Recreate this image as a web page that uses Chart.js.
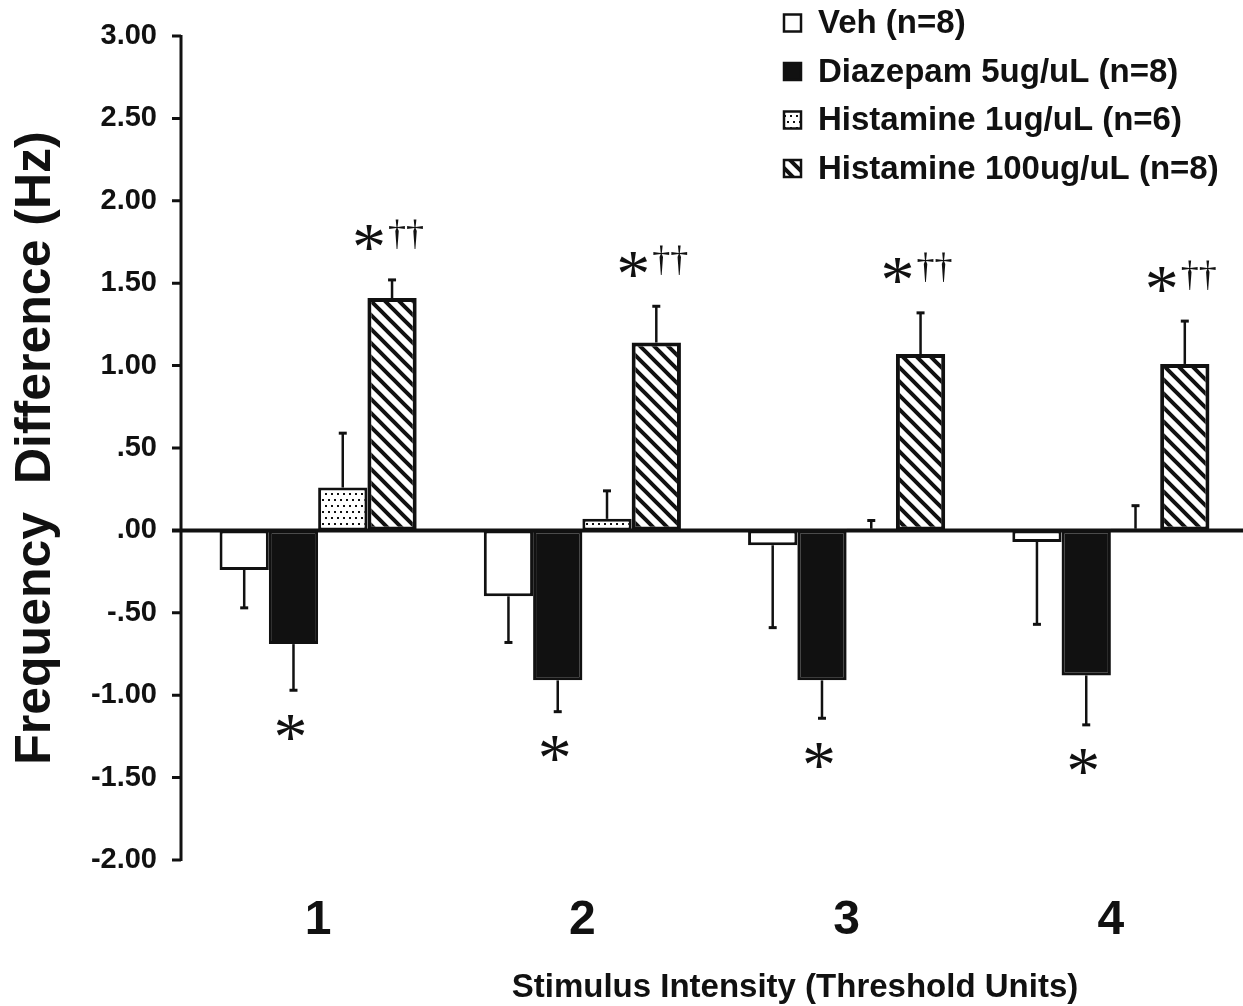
<!DOCTYPE html>
<html lang="en">
<head>
<meta charset="UTF-8">
<title>Frequency Difference</title>
<script src="https://cdn.jsdelivr.net/npm/chart.js"></script>
<style>
    html, body { margin: 0; padding: 0; background: #fff; }
    #wrap { width: 1243px; height: 1006px; }
</style>
</head>
<body>
<div id="wrap"><canvas id="chart" width="1243" height="1006"></canvas></div>
<script>
    // stimulus intensities (threshold units)
    const intensities = ['1', '2', '3', '4'];
    const groupNames = ['Veh (n=8)', 'Diazepam 5ug/uL (n=8)', 'Histamine 1ug/uL (n=6)', 'Histamine 100ug/uL (n=8)'];

    // mean frequency difference (Hz) and SEM for each group
    const vehMean = [-0.24, -0.40, -0.09, -0.07];
    const vehSem = [0.23, 0.28, 0.50, 0.50];
    const diazMean = [-0.69, -0.91, -0.91, -0.88];
    const diazSem = [0.28, 0.19, 0.23, 0.30];
    const hist1Mean = [0.26, 0.07, 0.01, 0.01];
    const hist1Sem = [0.33, 0.17, 0.05, 0.14];
    const hist100Mean = [1.41, 1.14, 1.07, 1.01];
    const hist100Sem = [0.11, 0.22, 0.25, 0.26];

    // significance marks
    const diazMarks = ['*', '*', '*', '*'];
    const hist100Marks = ['*', '*', '*', '*'];
    const hist100Daggers = ['††', '††', '††', '††'];

    const yTicks = [-2, -1.5, -1, -0.5, 0, 0.5, 1, 1.5, 2, 2.5, 3];

    const SANS = '"Liberation Sans", Arial, sans-serif';
    const SERIF = '"Liberation Serif", "Times New Roman", serif';
    const INK = '#111';

    // fill patterns
    function dotPattern() {
        const c = document.createElement('canvas');
        c.width = 6; c.height = 12;
        const g = c.getContext('2d');
        g.fillStyle = '#fff';
        g.fillRect(0, 0, 6, 12);
        g.fillStyle = '#111';
        g.fillRect(1, 1, 2, 2);
        g.fillRect(4, 7, 2, 2);
        return g.createPattern(c, 'repeat');
    }

    function hatchPattern() {
        const s = 14;
        const c = document.createElement('canvas');
        c.width = s; c.height = s;
        const g = c.getContext('2d');
        g.fillStyle = '#fff';
        g.fillRect(0, 0, s, s);
        g.strokeStyle = '#111';
        g.lineWidth = 4;
        g.lineCap = 'square';
        [-s, 0, s].forEach(k => {
            g.beginPath();
            g.moveTo(k - 2, -2);
            g.lineTo(k + s + 2, s + 2);
            g.stroke();
        });
        return g.createPattern(c, 'repeat');
    }

    const dots = dotPattern();
    const hatch = hatchPattern();

    const means = [vehMean, diazMean, hist1Mean, hist100Mean];
    const sems = [vehSem, diazSem, hist1Sem, hist100Sem];
    const fills = ['#fff', '#111', dots, hatch];
    const borders = [3, 3, 3, 4];

    function fmtTick(v) {
        let s = Math.abs(v).toFixed(2);
        if (Math.abs(v) < 1) s = s.slice(1);
        return (v < 0 ? '-' : '') + s;
    }

    // draw a glyph centred on (x, y) using its real ink box
    function centerText(ctx, txt, x, y) {
        const m = ctx.measureText(txt);
        const h = m.actualBoundingBoxAscent + m.actualBoundingBoxDescent;
        const w = m.actualBoundingBoxLeft + m.actualBoundingBoxRight;
        ctx.textAlign = 'left';
        ctx.textBaseline = 'alphabetic';
        ctx.fillText(txt, x - w / 2 + m.actualBoundingBoxLeft, y - h / 2 + m.actualBoundingBoxAscent);
    }

    const decorations = {
        id: 'decorations',
        afterDatasetsDraw(chart) {
            const ctx = chart.ctx;
            const ys = chart.scales.y;
            const area = chart.chartArea;
            const axisX = area.left - 5;

            ctx.save();
            ctx.strokeStyle = INK;
            ctx.fillStyle = INK;

            // error bars (one-sided, away from zero)
            means.forEach((vals, i) => {
                const meta = chart.getDatasetMeta(i);
                meta.data.forEach((bar, j) => {
                    const v = vals[j];
                    const end = v + (v < 0 ? -sems[i][j] : sems[i][j]);
                    const y0 = ys.getPixelForValue(v);
                    const y1 = ys.getPixelForValue(end);
                    ctx.lineWidth = 2.5;
                    ctx.beginPath();
                    ctx.moveTo(bar.x, y0);
                    ctx.lineTo(bar.x, y1);
                    ctx.stroke();
                    ctx.lineWidth = 3;
                    ctx.beginPath();
                    ctx.moveTo(bar.x - 4, y1);
                    ctx.lineTo(bar.x + 4, y1);
                    ctx.stroke();
                });
            });

            // y axis with outside tick marks
            ctx.lineWidth = 3;
            ctx.beginPath();
            ctx.moveTo(axisX, area.top - 1);
            ctx.lineTo(axisX, area.bottom + 1);
            yTicks.forEach(t => {
                const y = ys.getPixelForValue(t);
                ctx.moveTo(axisX - 9, y);
                ctx.lineTo(axisX, y);
            });
            ctx.stroke();

            // zero line
            const y0 = ys.getPixelForValue(0);
            ctx.lineWidth = 4;
            ctx.beginPath();
            ctx.moveTo(axisX - 9, y0);
            ctx.lineTo(chart.width, y0);
            ctx.stroke();

            // significance marks
            const diazMeta = chart.getDatasetMeta(1);
            diazMeta.data.forEach((bar, j) => {
                const yEnd = ys.getPixelForValue(diazMean[j] - diazSem[j]);
                ctx.font = '68px ' + SERIF;
                centerText(ctx, diazMarks[j], bar.x - 3, yEnd + 37);
            });
            const h100Meta = chart.getDatasetMeta(3);
            h100Meta.data.forEach((bar, j) => {
                const yEnd = ys.getPixelForValue(hist100Mean[j] + hist100Sem[j]);
                ctx.font = '68px ' + SERIF;
                centerText(ctx, hist100Marks[j], bar.x - 23, yEnd - 42);
                ctx.font = '36px ' + SERIF;
                centerText(ctx, hist100Daggers[j], bar.x + 14, yEnd - 46);
            });

            // x axis title
            ctx.font = 'bold 33px ' + SANS;
            ctx.textAlign = 'center';
            ctx.textBaseline = 'middle';
            ctx.fillText('Stimulus Intensity (Threshold Units)', 795, 988);

            // legend
            groupNames.forEach((name, i) => {
                const cy = 23 + i * 48.5;
                ctx.fillStyle = fills[i];
                ctx.fillRect(784, cy - 8.5, 17, 17);
                ctx.lineWidth = 2.5;
                ctx.strokeStyle = INK;
                ctx.strokeRect(784, cy - 8.5, 17, 17);
                ctx.fillStyle = INK;
                ctx.font = 'bold 33px ' + SANS;
                ctx.textAlign = 'left';
                ctx.textBaseline = 'middle';
                ctx.fillText(name, 818, cy + 1);
            });

            ctx.restore();
        }
    };

    const datasets = means.map((vals, i) => ({
        label: groupNames[i],
        data: vals,
        backgroundColor: fills[i],
        borderColor: INK,
        borderWidth: borders[i],
        borderSkipped: false,
        categoryPercentage: 0.746,
        barPercentage: 1.0
    }));

    new Chart(document.getElementById('chart'), {
        type: 'bar',
        data: { labels: intensities, datasets: datasets },
        options: {
            responsive: false,
            animation: false,
            devicePixelRatio: 1,
            layout: { padding: { top: 36, right: 0, bottom: 0, left: 0 } },
            plugins: {
                legend: { display: false },
                tooltip: { enabled: false }
            },
            scales: {
                x: {
                    offset: true,
                    grid: { display: false, drawTicks: false },
                    border: { display: false },
                    ticks: {
                        padding: 32,
                        color: INK,
                        font: { family: SANS, size: 48, weight: 'bold' }
                    },
                    afterFit: s => { s.height = 146; }
                },
                y: {
                    min: -2,
                    max: 3,
                    grid: { display: false, drawTicks: false },
                    border: { display: false },
                    ticks: {
                        stepSize: 0.5,
                        padding: 29,
                        color: INK,
                        font: { family: SANS, size: 29, weight: 'bold' },
                        callback: v => fmtTick(v)
                    },
                    title: {
                        display: true,
                        text: 'Frequency  Difference (Hz)',
                        color: INK,
                        font: { family: SANS, size: 50, weight: 'bold', lineHeight: 1 },
                        padding: { top: 11, bottom: 0 }
                    },
                    afterFit: s => {
                        s.width = 186;
                        s.paddingTop = 0;
                        s.paddingBottom = 0;
                    }
                }
            }
        },
        plugins: [decorations]
    });
</script>
</body>
</html>
